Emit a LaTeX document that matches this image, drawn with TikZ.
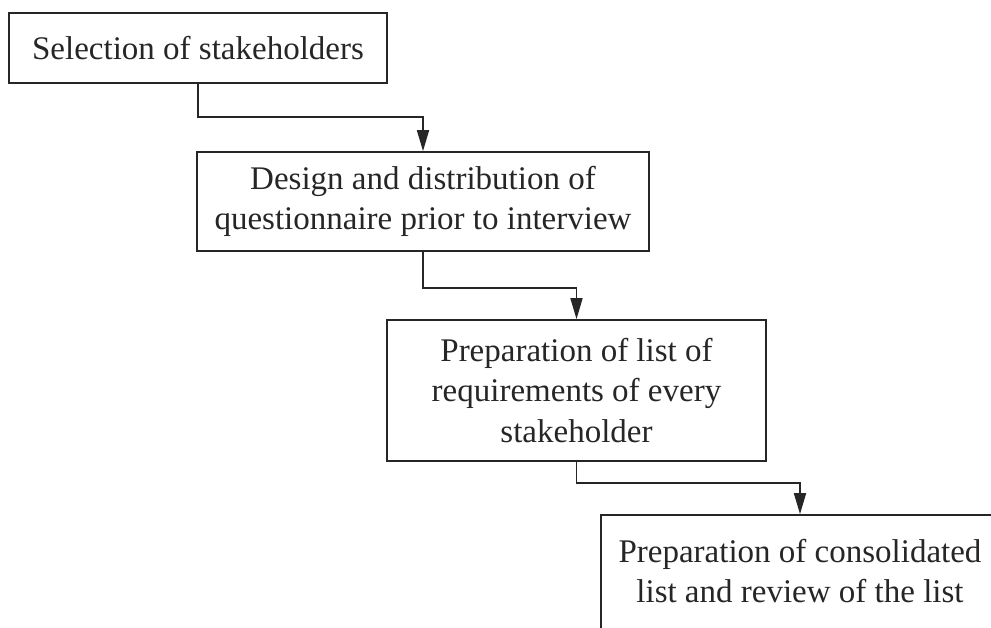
\documentclass[tikz,border=0pt]{standalone}
\usepackage{fontspec}
\setmainfont{Liberation Serif}
\usetikzlibrary{arrows.meta}
\definecolor{ink}{HTML}{262626}
\tikzset{
  txt/.style={text=ink, font=\fontsize{33}{40.5}\selectfont, align=center},
  box/.style={txt, draw=ink, line width=1.7pt, rectangle, inner sep=0pt},
  conn/.style={draw=ink, line width=1.7pt, -{Triangle[length=21pt,width=12pt]}}
}
\begin{document}
\begin{tikzpicture}[x=1pt,y=-1pt]
\useasboundingbox (0,0) rectangle (991,628);
\clip (0,0) rectangle (991,628);
\node[box, minimum width=378pt, minimum height=70pt] (b1) at (198,48) {Selection of stakeholders};
\node[box, minimum width=452pt, minimum height=99pt] (b2) at (423,201.5) {Design and distribution of\\questionnaire prior to interview};
\node[box, minimum width=379pt, minimum height=141pt] (b3) at (576.5,390.5) {Preparation of list of\\requirements of every\\stakeholder};
\node[box, minimum width=398pt, minimum height=140pt] (b4) at (800,585) {};
\node[txt] (t4) at (800,571) {Preparation of consolidated\\list and review of the list};
\draw[conn] (b1.south) -- ++(0,33) coordinate (c1) -| (b2.north);
\draw[conn] (b2.south) -- ++(0,36) coordinate (c2) -| (b3.north);
\draw[conn] (b3.south) -- ++(0,21) coordinate (c3) -| (b4.north);
\end{tikzpicture}
\end{document}
